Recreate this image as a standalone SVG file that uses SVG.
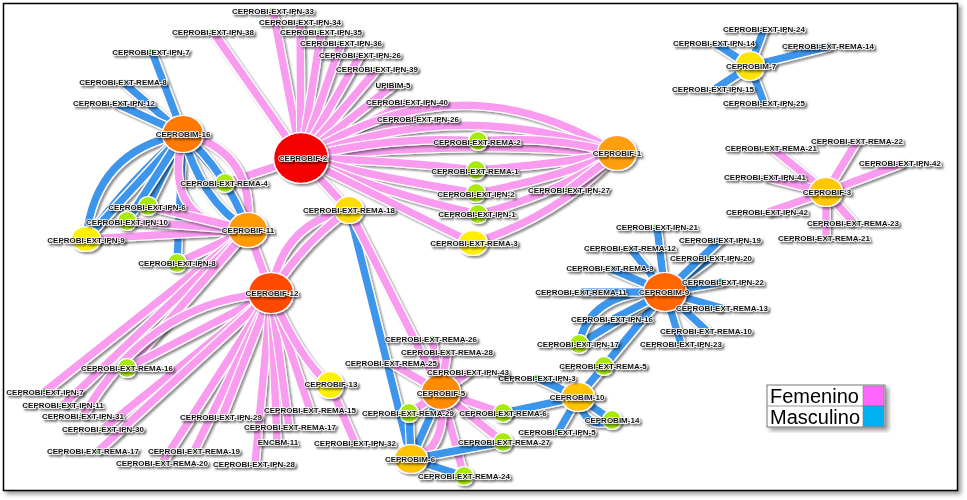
<svg xmlns="http://www.w3.org/2000/svg" width="967" height="500" viewBox="0 0 967 500">
<defs>
<filter id="es" filterUnits="userSpaceOnUse" x="0" y="0" width="967" height="500">
<feMorphology in="SourceAlpha" operator="dilate" radius="1" result="d"/>
<feGaussianBlur in="d" stdDeviation="1.2" result="bl"/>
<feOffset in="bl" dx="2" dy="2" result="o"/>
<feColorMatrix in="o" type="matrix" values="0 0 0 0 0 0 0 0 0 0 0 0 0 0 0 0 0 0 0.45 0" result="sh"/>
<feFlood flood-color="#fff"/>
<feComposite in2="d" operator="in" result="wh"/>
<feMerge><feMergeNode in="sh"/><feMergeNode in="wh"/><feMergeNode in="SourceGraphic"/></feMerge>
</filter>
<filter id="ns" x="-30%" y="-30%" width="170%" height="170%">
<feMorphology in="SourceAlpha" operator="dilate" radius="1" result="d"/>
<feGaussianBlur in="d" stdDeviation="1.3" result="bl"/>
<feOffset in="bl" dx="2" dy="2" result="o"/>
<feColorMatrix in="o" type="matrix" values="0 0 0 0 0 0 0 0 0 0 0 0 0 0 0 0 0 0 0.45 0" result="sh"/>
<feFlood flood-color="#fff"/>
<feComposite in2="d" operator="in" result="wh"/>
<feMerge><feMergeNode in="sh"/><feMergeNode in="wh"/><feMergeNode in="SourceGraphic"/></feMerge>
</filter>
<filter id="ts" x="-10%" y="-40%" width="125%" height="190%">
<feGaussianBlur in="SourceAlpha" stdDeviation="0.9" result="bl"/>
<feOffset in="bl" dx="1.5" dy="1.5" result="o"/>
<feColorMatrix in="o" type="matrix" values="0 0 0 0 0 0 0 0 0 0 0 0 0 0 0 0 0 0 0.55 0" result="sh"/>
<feMerge><feMergeNode in="sh"/><feMergeNode in="SourceGraphic"/></feMerge>
</filter>
<filter id="fs" x="-5%" y="-5%" width="112%" height="115%">
<feGaussianBlur in="SourceAlpha" stdDeviation="2" result="bl"/>
<feOffset in="bl" dx="3" dy="3" result="o"/>
<feColorMatrix in="o" type="matrix" values="0 0 0 0 0 0 0 0 0 0 0 0 0 0 0 0 0 0 0.4 0" result="sh"/>
<feMerge><feMergeNode in="sh"/><feMergeNode in="SourceGraphic"/></feMerge>
</filter>
<style>
.p{fill:none;stroke:#F99CF0;stroke-width:7.5;filter:url(#es)}
.b{fill:none;stroke:#3A96EC;stroke-width:7.5;filter:url(#es)}
.n{filter:url(#ns)}
.gn{fill:#A8EA00;filter:url(#ns)}
.lf{fill:#22CC00}
text{font-family:"Liberation Sans",Arial,sans-serif;font-size:8px;font-weight:bold;fill:#111;text-anchor:middle;stroke:#fff;stroke-width:1.5px;paint-order:stroke;filter:url(#ts)}
.lg{font-size:20px;font-weight:normal;text-anchor:start;stroke:none;filter:none;fill:#000}
</style>
</defs>
<rect x="0" y="0" width="967" height="500" fill="#fff"/>
<rect x="3.5" y="3.5" width="954" height="487" fill="#fff" stroke="#000" stroke-width="1.5" filter="url(#fs)"/>
<g id="connectors">
<path class="p" d="M301 158L273 11"/>
<path class="p" d="M301 158L300 22"/>
<path class="p" d="M301 158L321 32"/>
<path class="p" d="M301 158L341 43"/>
<path class="p" d="M301 158L360 55"/>
<path class="p" d="M301 158L377 69"/>
<path class="p" d="M301 158L393 85"/>
<path class="p" d="M301 158L407 102"/>
<path class="p" d="M301 158L418 119"/>
<path class="p" d="M301 158L213 32"/>
<path class="p" d="M301 158Q460 55 617 153"/>
<path class="p" d="M301 158Q460 95 617 153"/>
<path class="p" d="M301 158Q460 140 617 153"/>
<path class="p" d="M301 158Q390 135 478 141"/>
<path class="p" d="M478 141Q550 135 617 153"/>
<path class="p" d="M301 158Q390 160 476 170"/>
<path class="p" d="M476 170Q550 165 617 153"/>
<path class="p" d="M301 158Q390 180 476 193"/>
<path class="p" d="M476 193Q550 180 617 153"/>
<path class="p" d="M301 158Q390 195 478 214"/>
<path class="p" d="M478 214Q555 195 617 153"/>
<path class="p" d="M301 158L473 243"/>
<path class="p" d="M473 243Q560 215 617 153"/>
<path class="p" d="M617 153L568 190"/>
<path class="p" d="M301 158L225 183"/>
<path class="p" d="M301 158L349 210"/>
<path class="b" d="M183 134L152 52"/>
<path class="b" d="M183 134L123 82"/>
<path class="b" d="M183 134L115 103"/>
<path class="b" d="M183 134Q95 150 86 239"/>
<path class="b" d="M183 134Q130 180 86 239"/>
<path class="b" d="M183 134L86 239"/>
<path class="b" d="M183 134L148 206"/>
<path class="b" d="M183 134L127 221"/>
<path class="b" d="M183 134L177 263"/>
<path class="p" d="M183 134Q255 150 248 230"/>
<path class="p" d="M183 134Q160 225 248 230"/>
<path class="b" d="M183 134L225 183"/>
<path class="b" d="M225 183L248 230"/>
<path class="b" d="M183 134Q200 200 248 230"/>
<path class="b" d="M183 134Q225 170 248 230"/>
<path class="p" d="M248 230L86 239"/>
<path class="p" d="M248 230L127 221"/>
<path class="p" d="M248 230L148 206"/>
<path class="p" d="M248 230L177 263"/>
<path class="p" d="M248 230L44 392"/>
<path class="p" d="M248 230L63 405"/>
<path class="p" d="M248 230L127 368"/>
<path class="p" d="M248 230L271 293"/>
<path class="p" d="M349 210Q282 222 271 293"/>
<path class="p" d="M349 210Q305 240 271 293"/>
<path class="p" d="M271 293L127 368"/>
<path class="p" d="M271 293Q150 300 83 416"/>
<path class="p" d="M271 293L103 429"/>
<path class="p" d="M271 293L98 451"/>
<path class="p" d="M271 293L162 463"/>
<path class="p" d="M271 293L194 451"/>
<path class="p" d="M271 293L222 417"/>
<path class="p" d="M271 293L255 464"/>
<path class="p" d="M271 293L277 442"/>
<path class="p" d="M271 293L289 427"/>
<path class="p" d="M271 293L310 410"/>
<path class="p" d="M271 293Q300 360 330 385"/>
<path class="p" d="M330 385L355 443"/>
<path class="b" d="M349 210L411 459"/>
<path class="p" d="M349 210L441 392"/>
<path class="p" d="M441 392L432 339"/>
<path class="p" d="M441 392L447 352"/>
<path class="p" d="M441 392L391 363"/>
<path class="p" d="M441 392L469 372"/>
<path class="p" d="M441 392L409 413"/>
<path class="p" d="M441 392L503 413"/>
<path class="p" d="M441 392L503 442"/>
<path class="p" d="M441 392L464 476"/>
<path class="p" d="M441 392Q448 450 411 459"/>
<path class="b" d="M441 392L411 459"/>
<path class="b" d="M411 459L409 413"/>
<path class="b" d="M411 459L503 442"/>
<path class="b" d="M411 459L464 476"/>
<path class="b" d="M578 397L503 413"/>
<path class="b" d="M578 397L537 378"/>
<path class="b" d="M578 397L558 432"/>
<path class="b" d="M578 397L612 420"/>
<path class="b" d="M578 397Q585 432 612 420"/>
<path class="b" d="M578 397L604 366"/>
<path class="b" d="M604 366L665 292"/>
<path class="b" d="M579 344L665 292"/>
<path class="b" d="M579 344Q590 290 665 292"/>
<path class="b" d="M665 292L657 227"/>
<path class="b" d="M665 292L630 248"/>
<path class="b" d="M665 292L609 268"/>
<path class="b" d="M665 292L581 292"/>
<path class="b" d="M665 292L613 319"/>
<path class="b" d="M665 292L681 344"/>
<path class="b" d="M665 292L707 331"/>
<path class="b" d="M665 292L722 308"/>
<path class="b" d="M665 292L723 282"/>
<path class="b" d="M665 292L711 258"/>
<path class="b" d="M665 292L720 240"/>
<path class="b" d="M750 66L764 29"/>
<path class="b" d="M750 66L715 43"/>
<path class="b" d="M750 66L830 46"/>
<path class="b" d="M750 66L715 89"/>
<path class="b" d="M750 66L764 103"/>
<path class="p" d="M826 192L857 141"/>
<path class="p" d="M826 192L772 148"/>
<path class="p" d="M826 192L903 163"/>
<path class="p" d="M826 192L766 177"/>
<path class="p" d="M826 192L768 212"/>
<path class="p" d="M826 192L854 223"/>
<path class="p" d="M826 192L826 238"/>
</g>
<g id="F2"><ellipse class="n" cx="301" cy="158" rx="27" ry="25" fill="#F50000"/><text x="303" y="161">CEPROBIF-2</text></g>
<g id="M16"><ellipse class="n" cx="183" cy="134" rx="20" ry="18" fill="#FF7A00"/><text x="183" y="137">CEPROBIM-16</text></g>
<g id="F11"><ellipse class="n" cx="248" cy="230" rx="19" ry="17" fill="#FF9A00"/><text x="248" y="233">CEPROBIF-11</text></g>
<g id="F12"><ellipse class="n" cx="271" cy="293" rx="22" ry="20" fill="#FF4A00"/><text x="272" y="296">CEPROBIF-12</text></g>
<g id="F1"><ellipse class="n" cx="617" cy="153" rx="19" ry="17" fill="#FF9F10"/><text x="617" y="156">CEPROBIF-1</text></g>
<g id="M7"><ellipse class="n" cx="750" cy="66" rx="14" ry="14" fill="#FFE400"/><text x="751" y="69">CEPROBIM-7</text></g>
<g id="F3"><ellipse class="n" cx="826" cy="192" rx="16" ry="14" fill="#FFC800"/><text x="827" y="195">CEPROBIF-3</text></g>
<g id="M9"><ellipse class="n" cx="665" cy="292" rx="21" ry="19" fill="#FF6600"/><text x="664" y="295">CEPROBIM-9</text></g>
<g id="F5"><ellipse class="n" cx="441" cy="392" rx="19" ry="17" fill="#FF8C00"/><text x="441" y="396">CEPROBIF-5</text></g>
<g id="M10"><ellipse class="n" cx="578" cy="397" rx="16" ry="14" fill="#FFC400"/><text x="577" y="400">CEPROBIM-10</text></g>
<g id="M6"><ellipse class="n" cx="411" cy="459" rx="16" ry="14" fill="#FFC400"/><text x="410" y="462">CEPROBIM-6</text></g>
<g id="F13"><ellipse class="n" cx="330" cy="385" rx="13" ry="13" fill="#FFF200"/><text x="331" y="387">CEPROBIF-13</text></g>
<g id="R18"><ellipse class="n" cx="349" cy="210" rx="14" ry="13" fill="#FFDD00"/><text x="349" y="213">CEPROBI-EXT-REMA-18</text></g>
<g id="R3"><ellipse class="n" cx="473" cy="243" rx="14" ry="12" fill="#FFF000"/><text x="474" y="246">CEPROBI-EXT-REMA-3</text></g>
<g id="I9"><ellipse class="n" cx="86" cy="239" rx="14" ry="12" fill="#FFF000"/><text x="86" y="243">CEPROBI-EXT-IPN-9</text></g>
<g id="R4"><circle class="gn" cx="225" cy="183" r="9"/><text x="224" y="186">CEPROBI-EXT-REMA-4</text></g>
<g id="I6"><circle class="gn" cx="148" cy="206" r="9"/><text x="147" y="210">CEPROBI-EXT-IPN-6</text></g>
<g id="I10"><circle class="gn" cx="127" cy="221" r="9"/><text x="127" y="225">CEPROBI-EXT-IPN-10</text></g>
<g id="I8"><circle class="gn" cx="177" cy="263" r="9"/><text x="177" y="266">CEPROBI-EXT-IPN-8</text></g>
<g id="R2"><circle class="gn" cx="478" cy="141" r="9"/><text x="477" y="145">CEPROBI-EXT-REMA-2</text></g>
<g id="R1"><circle class="gn" cx="476" cy="170" r="9"/><text x="475" y="174">CEPROBI-EXT-REMA-1</text></g>
<g id="I2"><circle class="gn" cx="476" cy="193" r="9"/><text x="476" y="197">CEPROBI-EXT-IPN-2</text></g>
<g id="I1"><circle class="gn" cx="478" cy="214" r="9"/><text x="477" y="217">CEPROBI-EXT-IPN-1</text></g>
<g id="R16"><circle class="gn" cx="127" cy="368" r="9"/><text x="127" y="371">CEPROBI-EXT-REMA-16</text></g>
<g id="R29"><circle class="gn" cx="409" cy="413" r="9"/><text x="408" y="416">CEPROBI-EXT-REMA-29</text></g>
<g id="R6"><circle class="gn" cx="503" cy="413" r="9"/><text x="503" y="416">CEPROBI-EXT-REMA-6</text></g>
<g id="R27"><circle class="gn" cx="503" cy="442" r="9"/><text x="504" y="445">CEPROBI-EXT-REMA-27</text></g>
<g id="R24"><circle class="gn" cx="464" cy="476" r="9"/><text x="464" y="479">CEPROBI-EXT-REMA-24</text></g>
<g id="M14"><circle class="gn" cx="612" cy="420" r="9"/><text x="612" y="423">CEPROBIM-14</text></g>
<g id="R5"><circle class="gn" cx="604" cy="366" r="9"/><text x="603" y="369">CEPROBI-EXT-REMA-5</text></g>
<g id="I17"><circle class="gn" cx="579" cy="344" r="9"/><text x="578" y="347">CEPROBI-EXT-IPN-17</text></g>
<g id="I33"><rect class="lf" x="270.5" y="8.5" width="5" height="5"/><text x="273" y="14">CEPROBI-EXT-IPN-33</text></g>
<g id="I34"><rect class="lf" x="297.5" y="19.5" width="5" height="5"/><text x="300" y="25">CEPROBI-EXT-IPN-34</text></g>
<g id="I35"><rect class="lf" x="318.5" y="29.5" width="5" height="5"/><text x="321" y="35">CEPROBI-EXT-IPN-35</text></g>
<g id="I36"><rect class="lf" x="338.5" y="40.5" width="5" height="5"/><text x="341" y="46">CEPROBI-EXT-IPN-36</text></g>
<g id="I26a"><rect class="lf" x="357.5" y="52.5" width="5" height="5"/><text x="360" y="58">CEPROBI-EXT-IPN-26</text></g>
<g id="I39"><rect class="lf" x="374.5" y="66.5" width="5" height="5"/><text x="377" y="72">CEPROBI-EXT-IPN-39</text></g>
<g id="U5"><rect class="lf" x="390.5" y="82.5" width="5" height="5"/><text x="393" y="88">UPIBIM-5</text></g>
<g id="I40"><rect class="lf" x="404.5" y="99.5" width="5" height="5"/><text x="407" y="105">CEPROBI-EXT-IPN-40</text></g>
<g id="I26b"><rect class="lf" x="415.5" y="116.5" width="5" height="5"/><text x="418" y="122">CEPROBI-EXT-IPN-26</text></g>
<g id="I38"><rect class="lf" x="210.5" y="29.5" width="5" height="5"/><text x="213" y="35">CEPROBI-EXT-IPN-38</text></g>
<g id="I7a"><rect class="lf" x="149.5" y="49.5" width="5" height="5"/><text x="151" y="55">CEPROBI-EXT-IPN-7</text></g>
<g id="R8"><rect class="lf" x="120.5" y="79.5" width="5" height="5"/><text x="123" y="85">CEPROBI-EXT-REMA-8</text></g>
<g id="I12"><rect class="lf" x="112.5" y="100.5" width="5" height="5"/><text x="114" y="106">CEPROBI-EXT-IPN-12</text></g>
<g id="I24"><rect class="lf" x="761.5" y="26.5" width="5" height="5"/><text x="764" y="32">CEPROBI-EXT-IPN-24</text></g>
<g id="I14"><rect class="lf" x="712.5" y="40.5" width="5" height="5"/><text x="714" y="46">CEPROBI-EXT-IPN-14</text></g>
<g id="R14"><rect class="lf" x="827.5" y="43.5" width="5" height="5"/><text x="828" y="49">CEPROBI-EXT-REMA-14</text></g>
<g id="I15"><rect class="lf" x="712.5" y="86.5" width="5" height="5"/><text x="713" y="92">CEPROBI-EXT-IPN-15</text></g>
<g id="I25"><rect class="lf" x="761.5" y="100.5" width="5" height="5"/><text x="764" y="106">CEPROBI-EXT-IPN-25</text></g>
<g id="R22"><rect class="lf" x="854.5" y="138.5" width="5" height="5"/><text x="857" y="144">CEPROBI-EXT-REMA-22</text></g>
<g id="R21a"><rect class="lf" x="769.5" y="145.5" width="5" height="5"/><text x="771" y="151">CEPROBI-EXT-REMA-21</text></g>
<g id="I42a"><rect class="lf" x="900.5" y="160.5" width="5" height="5"/><text x="900" y="166">CEPROBI-EXT-IPN-42</text></g>
<g id="I41"><rect class="lf" x="763.5" y="174.5" width="5" height="5"/><text x="765" y="180">CEPROBI-EXT-IPN-41</text></g>
<g id="I42b"><rect class="lf" x="765.5" y="209.5" width="5" height="5"/><text x="767" y="215">CEPROBI-EXT-IPN-42</text></g>
<g id="R23"><rect class="lf" x="851.5" y="220.5" width="5" height="5"/><text x="853" y="226">CEPROBI-EXT-REMA-23</text></g>
<g id="R21b"><rect class="lf" x="823.5" y="235.5" width="5" height="5"/><text x="824" y="241">CEPROBI-EXT-REMA-21</text></g>
<g id="I21"><rect class="lf" x="654.5" y="224.5" width="5" height="5"/><text x="657" y="230">CEPROBI-EXT-IPN-21</text></g>
<g id="R12"><rect class="lf" x="627.5" y="245.5" width="5" height="5"/><text x="630" y="251">CEPROBI-EXT-REMA-12</text></g>
<g id="R9"><rect class="lf" x="606.5" y="265.5" width="5" height="5"/><text x="610" y="271">CEPROBI-EXT-REMA-9</text></g>
<g id="R11"><rect class="lf" x="578.5" y="289.5" width="5" height="5"/><text x="581" y="295">CEPROBI-EXT-REMA-11</text></g>
<g id="I16"><rect class="lf" x="610.5" y="316.5" width="5" height="5"/><text x="612" y="322">CEPROBI-EXT-IPN-16</text></g>
<g id="I23"><rect class="lf" x="678.5" y="341.5" width="5" height="5"/><text x="681" y="347">CEPROBI-EXT-IPN-23</text></g>
<g id="R10"><rect class="lf" x="704.5" y="328.5" width="5" height="5"/><text x="706" y="334">CEPROBI-EXT-REMA-10</text></g>
<g id="R13"><rect class="lf" x="719.5" y="305.5" width="5" height="5"/><text x="722" y="311">CEPROBI-EXT-REMA-13</text></g>
<g id="I22"><rect class="lf" x="720.5" y="279.5" width="5" height="5"/><text x="723" y="285">CEPROBI-EXT-IPN-22</text></g>
<g id="I20"><rect class="lf" x="708.5" y="255.5" width="5" height="5"/><text x="711" y="261">CEPROBI-EXT-IPN-20</text></g>
<g id="I19"><rect class="lf" x="717.5" y="237.5" width="5" height="5"/><text x="720" y="243">CEPROBI-EXT-IPN-19</text></g>
<g id="I27"><rect class="lf" x="565.5" y="187.5" width="5" height="5"/><text x="569" y="193">CEPROBI-EXT-IPN-27</text></g>
<g id="I3"><rect class="lf" x="534.5" y="375.5" width="5" height="5"/><text x="537" y="381">CEPROBI-EXT-IPN-3</text></g>
<g id="I5"><rect class="lf" x="555.5" y="429.5" width="5" height="5"/><text x="557" y="435">CEPROBI-EXT-IPN-5</text></g>
<g id="R26"><rect class="lf" x="429.5" y="336.5" width="5" height="5"/><text x="431" y="342">CEPROBI-EXT-REMA-26</text></g>
<g id="R28"><rect class="lf" x="444.5" y="349.5" width="5" height="5"/><text x="447" y="355">CEPROBI-EXT-REMA-28</text></g>
<g id="R25"><rect class="lf" x="388.5" y="360.5" width="5" height="5"/><text x="391" y="366">CEPROBI-EXT-REMA-25</text></g>
<g id="I43"><rect class="lf" x="466.5" y="369.5" width="5" height="5"/><text x="468" y="375">CEPROBI-EXT-IPN-43</text></g>
<g id="I32"><rect class="lf" x="352.5" y="440.5" width="5" height="5"/><text x="355" y="446">CEPROBI-EXT-IPN-32</text></g>
<g id="I7b"><rect class="lf" x="41.5" y="389.5" width="5" height="5"/><text x="45" y="395">CEPROBI-EXT-IPN-7</text></g>
<g id="I11"><rect class="lf" x="60.5" y="402.5" width="5" height="5"/><text x="63" y="408">CEPROBI-EXT-IPN-11</text></g>
<g id="I31"><rect class="lf" x="80.5" y="413.5" width="5" height="5"/><text x="83" y="419">CEPROBI-EXT-IPN-31</text></g>
<g id="I30"><rect class="lf" x="100.5" y="426.5" width="5" height="5"/><text x="103" y="432">CEPROBI-EXT-IPN-30</text></g>
<g id="R17a"><rect class="lf" x="95.5" y="448.5" width="5" height="5"/><text x="93" y="454">CEPROBI-EXT-REMA-17</text></g>
<g id="R19"><rect class="lf" x="191.5" y="448.5" width="5" height="5"/><text x="194" y="454">CEPROBI-EXT-REMA-19</text></g>
<g id="R20"><rect class="lf" x="159.5" y="460.5" width="5" height="5"/><text x="162" y="466">CEPROBI-EXT-REMA-20</text></g>
<g id="I28"><rect class="lf" x="252.5" y="461.5" width="5" height="5"/><text x="254" y="467">CEPROBI-EXT-IPN-28</text></g>
<g id="I29"><rect class="lf" x="219.5" y="414.5" width="5" height="5"/><text x="221" y="420">CEPROBI-EXT-IPN-29</text></g>
<g id="E11"><rect class="lf" x="274.5" y="439.5" width="5" height="5"/><text x="278" y="445">ENCBM-11</text></g>
<g id="R15"><rect class="lf" x="307.5" y="407.5" width="5" height="5"/><text x="310" y="413">CEPROBI-EXT-REMA-15</text></g>
<g id="R17b"><rect class="lf" x="286.5" y="424.5" width="5" height="5"/><text x="290" y="430">CEPROBI-EXT-REMA-17</text></g>
<g id="legend" filter="url(#fs)">
<rect x="767" y="385" width="118" height="42" fill="#fff" stroke="#777" stroke-width="1"/>
<line x1="767" y1="406" x2="885" y2="406" stroke="#999" stroke-width="1"/>
<rect x="863" y="386" width="21" height="20" fill="#FF66FF" stroke="#777" stroke-width="0.5"/>
<rect x="863" y="406" width="21" height="20.5" fill="#00B0F0" stroke="#777" stroke-width="0.5"/>
<text class="lg" x="770" y="403">Femenino</text>
<text class="lg" x="770" y="424">Masculino</text>
</g>
</svg>
